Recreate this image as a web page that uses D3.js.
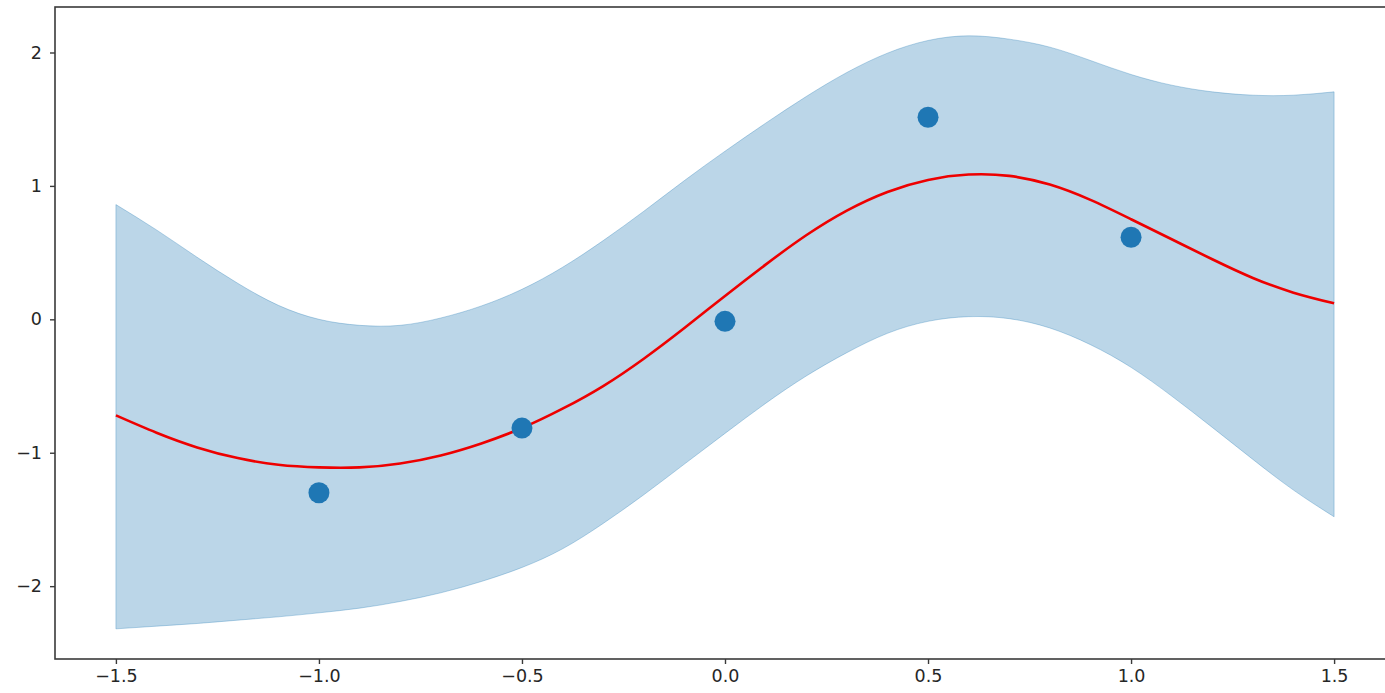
<!DOCTYPE html>
<html>
<head>
<meta charset="utf-8">
<script src="https://cdn.jsdelivr.net/npm/d3@7"></script>
<style>
  html, body { margin: 0; padding: 0; background: #fff; }
  svg { display: block; font-family: "DejaVu Sans", sans-serif; }
</style>
</head>
<body>
<svg id="chart"></svg>
<script>
// GP regression plot: posterior mean, +/- 2 sigma band, training points

// sample grid along x
const gridX = [-1.5, -1.4, -1.3, -1.2, -1.1, -1.0, -0.9, -0.8, -0.7, -0.6, -0.5,
  -0.4, -0.3, -0.2, -0.1, 0.0, 0.1, 0.2, 0.3, 0.4, 0.5,
  0.6, 0.7, 0.8, 0.9, 1.0, 1.1, 1.2, 1.3, 1.4, 1.5];

// posterior mean (red line)
const meanY = [-0.72, -0.85, -0.96, -1.04, -1.09, -1.11, -1.11, -1.08, -1.02, -0.93, -0.815,
  -0.67, -0.50, -0.295, -0.065, 0.175, 0.41, 0.63, 0.815, 0.955, 1.045,
  1.085, 1.075, 1.01, 0.895, 0.75, 0.60, 0.45, 0.31, 0.20, 0.12];

// upper edge of confidence band
const upperY = [0.86, 0.67, 0.465, 0.27, 0.105, 0.0, -0.045, -0.045, 0.01, 0.10, 0.225,
  0.39, 0.59, 0.81, 1.04, 1.26, 1.47, 1.67, 1.85, 1.995, 2.09,
  2.125, 2.10, 2.04, 1.94, 1.835, 1.755, 1.705, 1.68, 1.68, 1.705];

// lower edge of confidence band
const lowerY = [-2.32, -2.30, -2.28, -2.255, -2.23, -2.20, -2.165, -2.115, -2.05, -1.965, -1.86,
  -1.72, -1.53, -1.315, -1.085, -0.855, -0.63, -0.425, -0.25, -0.105, -0.015,
  0.02, 0.005, -0.065, -0.19, -0.36, -0.575, -0.81, -1.05, -1.28, -1.48];

// training observations
const obsX = [-1.0, -0.5, 0.0, 0.5, 1.0];
const obsY = [-1.30, -0.815, -0.015, 1.515, 0.615];

const xTicks = [-1.5, -1.0, -0.5, 0.0, 0.5, 1.0, 1.5];
const yTicks = [-2, -1, 0, 1, 2];

const width = 1385;
const height = 693;
const margin = { top: 7, left: 55 };
const plotRight = 1395;   // right spine sits just past the cropped edge
const plotBottom = 659;

const svg = d3.select('#chart')
  .attr('width', width)
  .attr('height', height);

const xScale = d3.scaleLinear()
  .domain([-1.65, 1.65])
  .range([margin.left, plotRight]);

const yScale = d3.scaleLinear()
  .domain([-2.546, 2.341])
  .range([plotBottom, margin.top]);

const band = gridX.map((x, i) => ({ x: x, lo: lowerY[i], hi: upperY[i], m: meanY[i] }));

// confidence band
const area = d3.area()
  .x(d => xScale(d.x))
  .y0(d => yScale(d.lo))
  .y1(d => yScale(d.hi))
  .curve(d3.curveNatural);

svg.append('path')
  .datum(band)
  .attr('d', area)
  .style('fill', '#1f77b4')
  .style('fill-opacity', 0.3)
  .style('stroke', '#1f77b4')
  .style('stroke-opacity', 0.3)
  .style('stroke-width', 1);

// mean line
const line = d3.line()
  .x(d => xScale(d.x))
  .y(d => yScale(d.m))
  .curve(d3.curveNatural);

svg.append('path')
  .datum(band)
  .attr('d', line)
  .style('fill', 'none')
  .style('stroke', '#ee0000')
  .style('stroke-width', 2.6);

// observations
svg.append('g')
  .selectAll('circle')
  .data(obsX.map((x, i) => ({ x: x, y: obsY[i] })))
  .enter()
  .append('circle')
  .attr('cx', d => xScale(d.x))
  .attr('cy', d => yScale(d.y))
  .attr('r', 10.5)
  .style('fill', '#1f77b4');

// spines
svg.append('rect')
  .attr('x', margin.left)
  .attr('y', margin.top)
  .attr('width', plotRight - margin.left)
  .attr('height', plotBottom - margin.top)
  .style('fill', 'none')
  .style('stroke', '#3a3a3a')
  .style('stroke-width', 1.6);

const fmtMinus = s => s.replace('-', '\u2212');

const xAxis = d3.axisBottom(xScale)
  .tickValues(xTicks)
  .tickFormat(d => fmtMinus(d3.format('.1f')(d)))
  .tickSizeInner(5)
  .tickSizeOuter(0)
  .tickPadding(6);

const gx = svg.append('g')
  .attr('transform', `translate(0,${plotBottom})`)
  .call(xAxis);

const yAxis = d3.axisLeft(yScale)
  .tickValues(yTicks)
  .tickFormat(d => fmtMinus(d3.format('d')(d)))
  .tickSizeInner(5)
  .tickSizeOuter(0)
  .tickPadding(8);

const gy = svg.append('g')
  .attr('transform', `translate(${margin.left},0)`)
  .call(yAxis);

[gx, gy].forEach(g => {
  g.select('.domain').remove();
  g.selectAll('.tick line')
    .style('stroke', '#3a3a3a')
    .style('stroke-width', 1.4);
  g.selectAll('.tick text')
    .style('font-family', '"DejaVu Sans", sans-serif')
    .style('font-size', '17.5px')
    .style('fill', '#262626');
});
</script>
</body>
</html>
